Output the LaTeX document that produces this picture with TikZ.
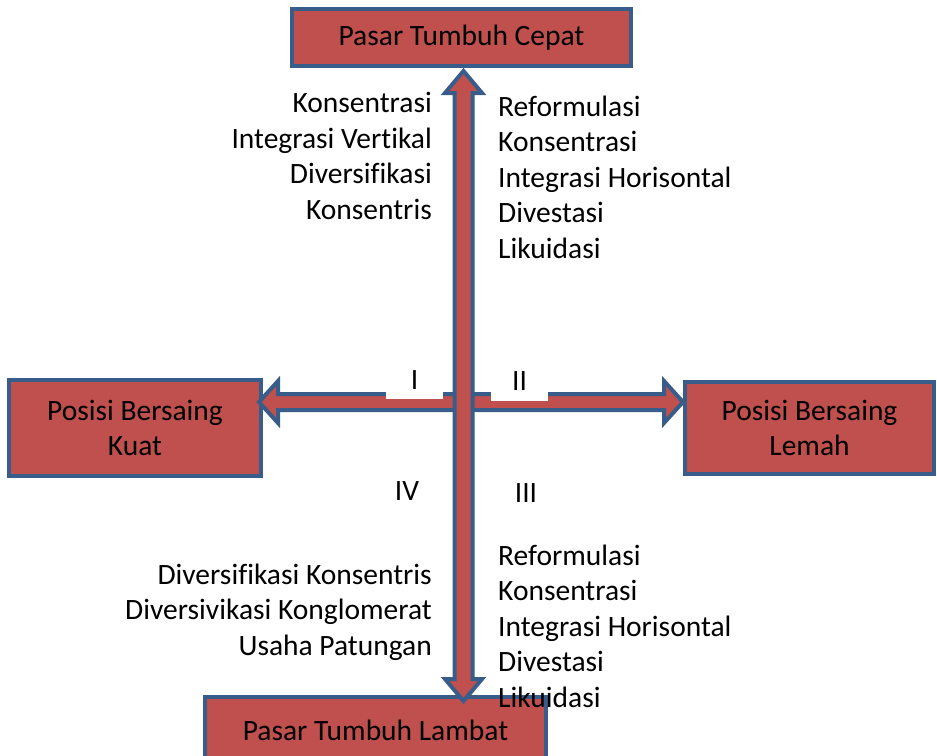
\documentclass[tikz,border=0pt]{standalone}
\usepackage{fontspec}
\setmainfont{Carlito}[Ligatures=NoCommon]
\usetikzlibrary{calc}
\definecolor{merah}{HTML}{C0504D}
\definecolor{biru}{HTML}{385D8A}
\tikzset{
    kotak/.style={draw=biru, fill=merah, line width=4pt, inner sep=0pt, align=center,
        font=\fontsize{29.5}{35}\selectfont},
    panah/.style={draw=biru, fill=merah, line width=4pt},
    teks/.style={inner sep=0pt, font=\fontsize{29.5}{35.5}\selectfont},
    kuadran/.style={teks, fill=white, minimum width=57pt}
}
\begin{document}
\begin{tikzpicture}[x=1pt, y=-1pt]
        \useasboundingbox (0, 0) rectangle (937, 755);
        \clip (0, 0) rectangle (937, 755);

        % kotak pasar dan posisi
        \node[kotak, minimum width=339pt, minimum height=57pt] (cepat) at (461.5, 37.5) {Pasar Tumbuh Cepat};
        \node[kotak, minimum width=252pt, minimum height=96pt] (kuat) at (135, 428) {Posisi Bersaing\\Kuat};
        \node[kotak, minimum width=249pt, minimum height=92pt] (lemah) at (809.5, 428) {Posisi Bersaing\\Lemah};
        \node[kotak, minimum width=341pt, minimum height=66pt] (lambat) at (375.5, 730) {Pasar Tumbuh Lambat};

        \coordinate (atas) at (463.5, 71);
        \coordinate (bawah) at (463.5, 701);
        \coordinate (kiri) at (259, 402);
        \coordinate (kanan) at (683, 402);

        % panah mendatar
        \draw[panah] (kiri) -- ++(19, -21) -- ++(0, 13) -- ($(kanan) + (-19, -8)$) -- ++(0, -13) -- (kanan)
            -- ++(-19, 21) -- ++(0, -13) -- ($(kiri) + (19, 8)$) -- ++(0, 13) -- cycle;

        \node[kuadran, minimum height=38pt, anchor=south] (k1) at (414.5, 399) {I};
        \node[kuadran, minimum height=40pt, anchor=south] (k2) at (519.5, 401) {II};

        % panah tegak
        \draw[panah] (atas) -- ++(18.5, 22) -- ++(-9.5, 0) -- ($(bawah) + (9, -22)$) -- ++(9.5, 0) -- (bawah)
            -- ++(-18.5, -22) -- ++(9.5, 0) -- ($(atas) + (-9, 22)$) -- ++(-9.5, 0) -- cycle;

        \node[teks, anchor=base] (k4) at (407, 500) {IV};
        \node[teks, anchor=base] (k3) at (526, 502) {III};

        % strategi tiap kuadran (base = baris terakhir)
        \node[teks, align=right, anchor=base east] (s1) at (432, 219)
            {Konsentrasi\\Integrasi Vertikal\\Diversifikasi\\Konsentris};
        \node[teks, align=left, anchor=base west] (s2) at (498, 258)
            {Reformulasi\\Konsentrasi\\Integrasi Horisontal\\Divestasi\\Likuidasi};
        \node[teks, align=right, anchor=base east] (s4) at (432, 655)
            {Diversifikasi Konsentris\\Diversivikasi Konglomerat\\Usaha Patungan};
        \node[teks, align=left, anchor=base west] (s3) at (498, 707)
            {Reformulasi\\Konsentrasi\\Integrasi Horisontal\\Divestasi\\Likuidasi};

    \end{tikzpicture}
\end{document}
